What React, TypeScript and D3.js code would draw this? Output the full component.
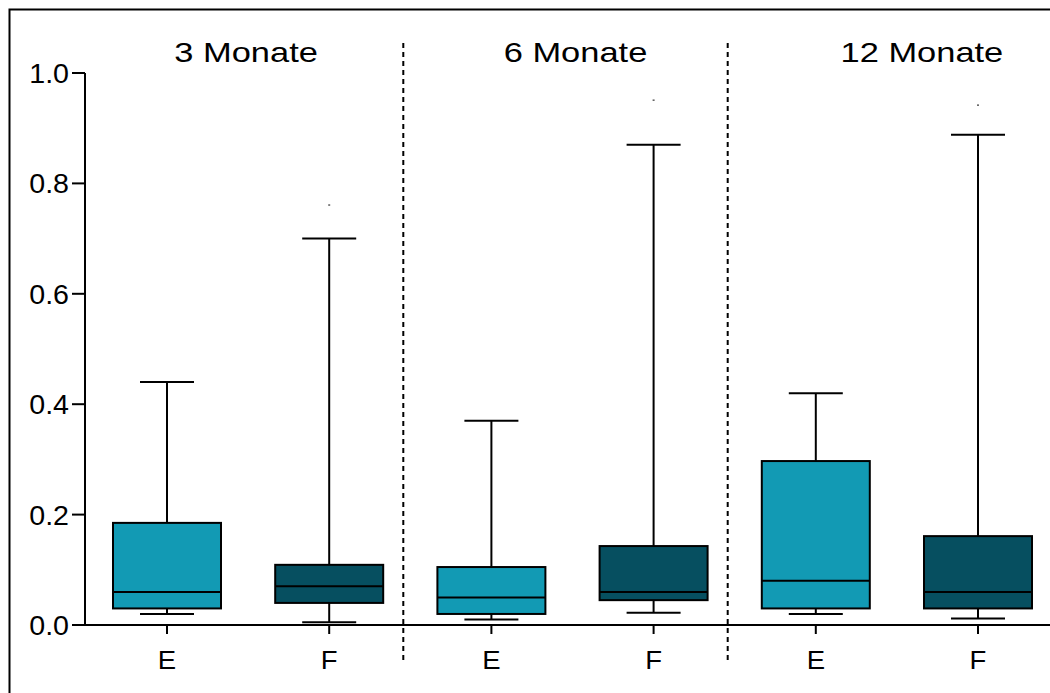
import React from "react";
import * as d3 from "d3";

const groups = ["3 Monate", "6 Monate", "12 Monate"];
const categories = ["E", "F", "E", "F", "E", "F"];
const whiskerHigh = [0.44, 0.70, 0.37, 0.87, 0.42, 0.888];
const q3 = [0.185, 0.109, 0.105, 0.143, 0.297, 0.161];
const median = [0.06, 0.07, 0.05, 0.06, 0.08, 0.06];
const q1 = [0.03, 0.04, 0.02, 0.045, 0.03, 0.03];
const whiskerLow = [0.02, 0.005, 0.01, 0.022, 0.02, 0.012];
const outliers: (number | null)[] = [null, 0.761, null, 0.951, null, 0.942];
const yTicks = [0, 0.2, 0.4, 0.6, 0.8, 1.0];

const colors: Record<string, string> = { E: "#129AB4", F: "#064F60" };

export default function App() {
  const y = d3.scaleLinear().domain([0, 1]).range([625, 73]);
  const x = d3
    .scalePoint<number>()
    .domain(categories.map((_, i) => i))
    .range([167, 978]);
  const boxW = 108;
  const capW = 54;
  const font = "'Liberation Sans', Arial, sans-serif";

  const titleDx = [-2, 3, 25];

  return (
    <svg
      width={1050}
      height={693}
      style={{ position: "absolute", left: 0, top: 0, background: "#fff" }}
    >
      <rect x={9.5} y={9.5} width={1100} height={1000} fill="none" stroke="#000" strokeWidth={2} />

      {/* y axis */}
      <line x1={85} x2={85} y1={y(1)} y2={y(0)} stroke="#000" strokeWidth={2} />
      {yTicks.map((t) => (
        <g key={t}>
          <line x1={72} x2={85} y1={y(t)} y2={y(t)} stroke="#000" strokeWidth={2} />
          <text
            transform={`translate(69,${y(t) + 10}) scale(1.06,1)`}
            textAnchor="end"
            fontFamily={font}
            fontSize={27}
            fill="#000"
          >
            {t.toFixed(1)}
          </text>
        </g>
      ))}

      {/* x axis */}
      <line x1={72} x2={1050} y1={y(0)} y2={y(0)} stroke="#000" strokeWidth={2} />
      {categories.map((c, i) => (
        <g key={i}>
          <line x1={x(i)!} x2={x(i)!} y1={y(0)} y2={y(0) + 9} stroke="#000" strokeWidth={2} />
          <text
            transform={`translate(${x(i)!},669) scale(1.1,1)`}
            textAnchor="middle"
            fontFamily={font}
            fontSize={25}
            fill="#000"
          >
            {c}
          </text>
        </g>
      ))}

      {/* dividers */}
      {[1, 3].map((i) => {
        const xm = (x(i)! + x(i + 1)!) / 2 - 7;
        return (
          <line
            key={i}
            x1={xm}
            x2={xm}
            y1={43}
            y2={664}
            stroke="#000"
            strokeWidth={2}
            strokeDasharray="5,4"
          />
        );
      })}

      {/* group titles */}
      {groups.map((g, gi) => {
        const cx = (x(gi * 2)! + x(gi * 2 + 1)!) / 2 + titleDx[gi];
        return (
          <text
            key={g}
            transform={`translate(${cx},62) scale(1.23,1)`}
            textAnchor="middle"
            fontFamily={font}
            fontSize={28}
            fill="#000"
          >
            {g}
          </text>
        );
      })}

      {/* boxes */}
      {categories.map((c, i) => {
        const cx = x(i)!;
        return (
          <g key={i}>
            <line x1={cx} x2={cx} y1={y(whiskerHigh[i])} y2={y(q3[i])} stroke="#000" strokeWidth={2} />
            <line x1={cx} x2={cx} y1={y(q1[i])} y2={y(whiskerLow[i])} stroke="#000" strokeWidth={2} />
            <line
              x1={cx - capW / 2}
              x2={cx + capW / 2}
              y1={y(whiskerHigh[i])}
              y2={y(whiskerHigh[i])}
              stroke="#000"
              strokeWidth={2}
            />
            <line
              x1={cx - capW / 2}
              x2={cx + capW / 2}
              y1={y(whiskerLow[i])}
              y2={y(whiskerLow[i])}
              stroke="#000"
              strokeWidth={2}
            />
            <rect
              x={cx - boxW / 2}
              y={y(q3[i])}
              width={boxW}
              height={y(q1[i]) - y(q3[i])}
              fill={colors[c]}
              stroke="#000"
              strokeWidth={2}
            />
            <line
              x1={cx - boxW / 2}
              x2={cx + boxW / 2}
              y1={y(median[i])}
              y2={y(median[i])}
              stroke="#000"
              strokeWidth={2}
            />
            {outliers[i] !== null && (
              <rect x={cx - 1} y={y(outliers[i] as number) - 0.5} width={2} height={1.2} fill="#333" />
            )}
          </g>
        );
      })}
    </svg>
  );
}
